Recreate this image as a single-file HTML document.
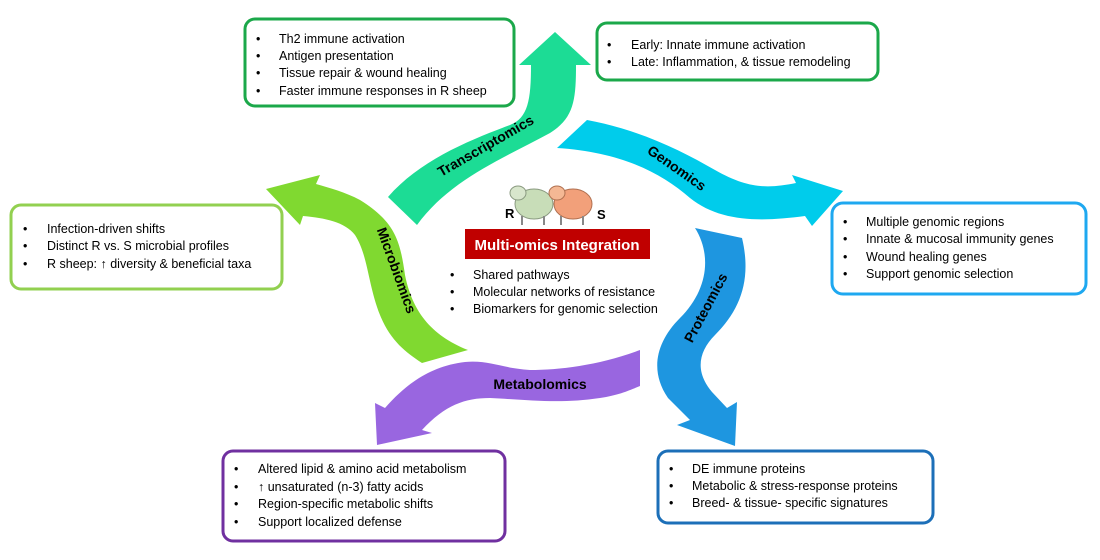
<!DOCTYPE html>
<html><head><meta charset="utf-8"><style>
html,body{margin:0;padding:0;background:#fff;}
svg{display:block;font-family:"Liberation Sans",Arial,sans-serif;}
.t{font-size:12.5px;fill:#000;}
.l{font-size:14px;font-weight:bold;fill:#000;}
</style></head><body>
<svg width="1100" height="560" viewBox="0 0 1100 560" xmlns="http://www.w3.org/2000/svg">
<!-- Transcriptomics arrow -->
<path d="M388,197 C420,160 470,140 510,125 C528,118 531,100 531,65 L519,65 L555,32 L591,65 L576,65 C576,100 574,118 550,133 C500,160 450,180 417,225 Z" fill="#1CDC95"/>
<!-- Genomics arrow -->
<path d="M587,120 C640,130 680,150 715,170 C750,190 770,188 796,183 L792,175 L843,191 L812,226 L805,216 C760,222 720,222 690,198 C660,172 620,152 557,148 Z" fill="#00CCEB"/>
<!-- Proteomics arrow -->
<path d="M695,228 C712,255 708,290 680,318 C655,343 650,372 668,398 L690,420 L677,425 L735,446 L737,402 L727,408 L712,392 C695,372 698,352 715,335 C740,310 752,280 742,238 Z" fill="#1E96E0"/>
<!-- Metabolomics arrow -->
<path d="M640,350 C600,365 560,370 530,370 C500,368 490,360 465,362 C430,366 405,385 385,408 L375,403 L377,445 L432,433 L422,430 C445,405 465,398 490,398 C530,400 560,404 600,398 C620,395 630,390 640,386 Z" fill="#9966E0"/>
<!-- Microbiomics arrow -->
<path d="M468,350 C430,335 412,310 405,275 C400,240 395,222 360,200 C345,192 330,188 316,184 L320,175 L266,189 L300,225 L303,216 C325,218 345,222 355,235 C368,255 368,285 380,315 C390,340 405,352 422,363 Z" fill="#80D930"/>
<!-- arrow labels -->
<text class="l" transform="translate(488,150) rotate(-30)" text-anchor="middle">Transcriptomics</text>
<text class="l" transform="translate(674,172) rotate(35)" text-anchor="middle">Genomics</text>
<text class="l" transform="translate(710,310) rotate(-62)" text-anchor="middle">Proteomics</text>
<text class="l" x="540" y="389" text-anchor="middle">Metabolomics</text>
<text class="l" transform="translate(392,272) rotate(70)" text-anchor="middle">Microbiomics</text>
<!-- boxes -->
<rect x="245" y="19" width="269" height="87" rx="10" fill="#fff" stroke="#1BA84A" stroke-width="3"/>
<g class="t"><text x="256" y="43">•</text><text x="279" y="43">Th2 immune activation</text>
<text x="256" y="60">•</text><text x="279" y="60">Antigen presentation</text>
<text x="256" y="77">•</text><text x="279" y="77">Tissue repair &amp; wound healing</text>
<text x="256" y="95">•</text><text x="279" y="95">Faster immune responses in R sheep</text></g>
<rect x="597" y="23" width="281" height="57" rx="10" fill="#fff" stroke="#1BA84A" stroke-width="3"/>
<g class="t"><text x="607" y="49">•</text><text x="631" y="49">Early: Innate immune activation</text>
<text x="607" y="66">•</text><text x="631" y="66">Late: Inflammation, &amp; tissue remodeling</text></g>
<rect x="832" y="203" width="254" height="91" rx="11" fill="#fff" stroke="#1EA8F0" stroke-width="3"/>
<g class="t"><text x="843" y="226">•</text><text x="866" y="226">Multiple genomic regions</text>
<text x="843" y="243">•</text><text x="866" y="243">Innate &amp; mucosal immunity genes</text>
<text x="843" y="261">•</text><text x="866" y="261">Wound healing genes</text>
<text x="843" y="278">•</text><text x="866" y="278">Support genomic selection</text></g>
<rect x="658" y="451" width="275" height="72" rx="10" fill="#fff" stroke="#1C6FB8" stroke-width="3"/>
<g class="t"><text x="669" y="473">•</text><text x="692" y="473">DE immune proteins</text>
<text x="669" y="490">•</text><text x="692" y="490">Metabolic &amp; stress-response proteins</text>
<text x="669" y="507">•</text><text x="692" y="507">Breed- &amp; tissue- specific signatures</text></g>
<rect x="223" y="451" width="282" height="90" rx="10" fill="#fff" stroke="#7030A0" stroke-width="3"/>
<g class="t"><text x="234" y="473">•</text><text x="258" y="473">Altered lipid &amp; amino acid metabolism</text>
<text x="234" y="491">•</text><text x="258" y="491">↑ unsaturated (n-3) fatty acids</text>
<text x="234" y="508">•</text><text x="258" y="508">Region-specific metabolic shifts</text>
<text x="234" y="526">•</text><text x="258" y="526">Support localized defense</text></g>
<rect x="11" y="205" width="271" height="84" rx="10" fill="#fff" stroke="#92D050" stroke-width="3"/>
<g class="t"><text x="23" y="233">•</text><text x="47" y="233">Infection-driven shifts</text>
<text x="23" y="250">•</text><text x="47" y="250">Distinct R vs. S microbial profiles</text>
<text x="23" y="268">•</text><text x="47" y="268">R sheep: ↑ diversity &amp; beneficial taxa</text></g>
<!-- center -->
<ellipse cx="534" cy="204" rx="19" ry="15" fill="#C8DDB8" stroke="#8A9A80"/>
<ellipse cx="518" cy="193" rx="8" ry="7" fill="#D8E6CC" stroke="#8A9A80"/>
<ellipse cx="573" cy="204" rx="19" ry="15" fill="#F2A07A" stroke="#B07050"/>
<ellipse cx="557" cy="193" rx="8" ry="7" fill="#F4B894" stroke="#B07050"/>
<g stroke="#888" stroke-width="2"><line x1="522" y1="216" x2="522" y2="225"/><line x1="544" y1="216" x2="544" y2="225"/><line x1="561" y1="216" x2="561" y2="225"/><line x1="583" y1="216" x2="583" y2="225"/></g>
<text x="505" y="218" style="font-size:13px;font-weight:bold">R</text>
<text x="597" y="219" style="font-size:13px;font-weight:bold">S</text>
<rect x="465" y="229" width="185" height="30" fill="#C00000"/>
<text x="557" y="250" text-anchor="middle" style="font-size:15px;font-weight:bold;fill:#fff">Multi-omics Integration</text>
<g class="t"><text x="450" y="279">•</text><text x="473" y="279">Shared pathways</text>
<text x="450" y="296">•</text><text x="473" y="296">Molecular networks of resistance</text>
<text x="450" y="313">•</text><text x="473" y="313">Biomarkers for genomic selection</text></g>
</svg>
</body></html>
